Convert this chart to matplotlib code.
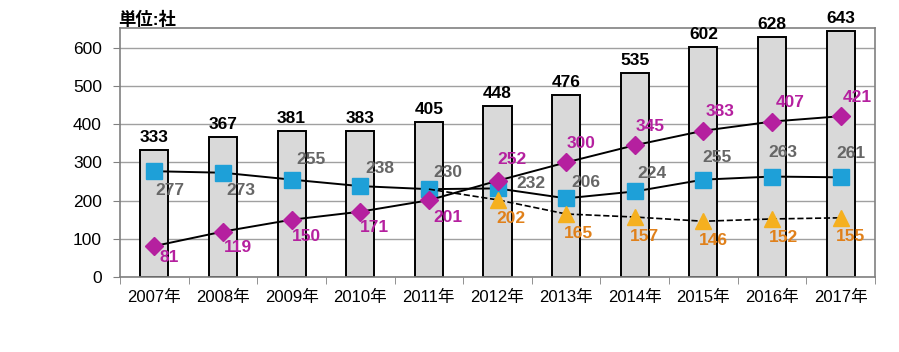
import matplotlib
matplotlib.use('Agg')
import matplotlib.pyplot as plt
import numpy as np

plt.rcParams['font.family'] = ['Liberation Sans', 'Noto Sans CJK JP']

years = ['2007年', '2008年', '2009年', '2010年', '2011年', '2012年',
         '2013年', '2014年', '2015年', '2016年', '2017年']
total = [333, 367, 381, 383, 405, 448, 476, 535, 602, 628, 643]
squares = [277, 273, 255, 238, 230, 232, 206, 224, 255, 263, 261]
diamonds = [81, 119, 150, 171, 201, 252, 300, 345, 383, 407, 421]
# triangle series only from 2012; dashed line starts at the 2011 square value
tri_start = 4
triangles = [230, 202, 165, 157, 146, 152, 155]

# label offsets in pixels (dx, dy)
sq_off = [(16, -19), (18, -18), (19, 20), (20, 18), (19, 17), (33, 5),
          (20, 16), (17, 18), (14, 22), (11, 24), (10, 24)]
di_off = [(15, -11), (15, -16), (15, -17), (14, -16), (19, -17), (15, 21),
          (15, 19), (15, 19), (17, 19), (18, 19), (17, 19)]
tr_off = [(13, -19), (12, -20), (10, -19), (10, -19), (11, -19), (10, -19)]

blue = '#1ea0d8'
magenta = '#b5209f'
yellow = '#f5b01f'
lab_size = 12.5

fig = plt.figure(figsize=(8.99, 3.52), dpi=100)
ax = fig.add_axes([120 / 899, 1 - 277 / 352, 755 / 899, 249 / 352])

x = np.arange(len(years))
ax.bar(x, total, width=0.41, color='#d9d9d9', edgecolor='black', linewidth=1.4, zorder=2)
for xi, v in zip(x, total):
    ax.annotate(str(v), (xi, v), xytext=(0, 5), textcoords='offset pixels',
                ha='center', va='bottom', fontsize=lab_size, fontweight='bold', color='black')

ax.plot(x, squares, color='black', linewidth=1.4, marker='s', markersize=12,
        markerfacecolor=blue, markeredgecolor=blue, zorder=3)
ax.plot(x, diamonds, color='black', linewidth=1.4, marker='D', markersize=9,
        markerfacecolor=magenta, markeredgecolor=magenta, zorder=3)
xt = x[tri_start:]
ax.plot(xt, triangles, color='black', linewidth=1.2, linestyle='--', zorder=3)
ax.plot(xt[1:], triangles[1:], linestyle='none', marker='^', markersize=12,
        markerfacecolor=yellow, markeredgecolor=yellow, zorder=4)

for xi, v, (dx, dy) in zip(x, squares, sq_off):
    ax.annotate(str(v), (xi, v), xytext=(dx, dy), textcoords='offset pixels',
                ha='center', va='center', fontsize=lab_size, fontweight='bold', color='#666666', zorder=5)
for xi, v, (dx, dy) in zip(x, diamonds, di_off):
    ax.annotate(str(v), (xi, v), xytext=(dx, dy), textcoords='offset pixels',
                ha='center', va='center', fontsize=lab_size, fontweight='bold', color=magenta, zorder=5)
for xi, v, (dx, dy) in zip(xt[1:], triangles[1:], tr_off):
    ax.annotate(str(v), (xi, v), xytext=(dx, dy), textcoords='offset pixels',
                ha='center', va='center', fontsize=lab_size, fontweight='bold', color='#e0801a', zorder=5)

ax.set_xlim(-0.5, len(years) - 0.5)
ax.set_ylim(0, 652)
ax.set_yticks(range(0, 700, 100))
ax.set_xticks(x)
ax.set_xticklabels(years, fontsize=12)
ax.set_xticks(np.arange(-0.5, len(years), 1), minor=True)
ax.tick_params(axis='x', which='major', length=0, pad=9)
ax.tick_params(axis='x', which='minor', length=5, color='#808080')
ax.tick_params(axis='y', length=5, color='#808080', pad=8, labelsize=12.5)
ax.yaxis.grid(True, color='#a0a0a0', linewidth=1)
ax.set_axisbelow(True)
for s in ax.spines.values():
    s.set_color('#808080')
    s.set_linewidth(1.2)

ax.text(-0.003, 1.0, '単位:社', transform=ax.transAxes, ha='left', va='bottom',
        fontsize=12.5, fontweight='bold')

fig.savefig('out.png', dpi=100)
